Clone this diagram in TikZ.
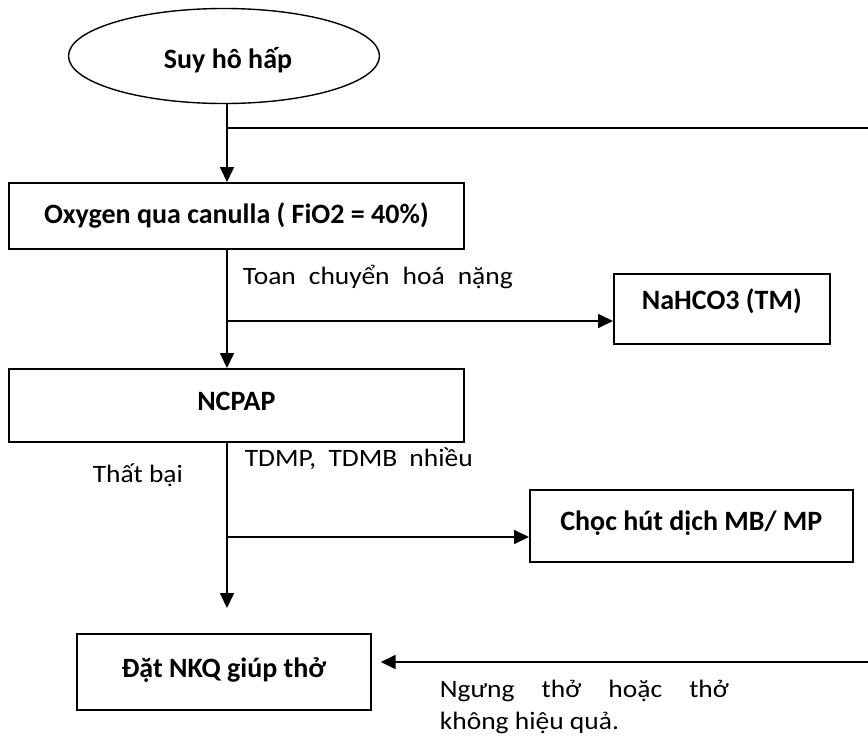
\documentclass[tikz,border=0pt]{standalone}
\usepackage{fontspec}
\setmainfont{Carlito}
\newfontfamily\lblfont{Carlito}[FakeStretch=1.1]
\usetikzlibrary{arrows.meta,shapes.geometric}
\begin{document}
\begin{tikzpicture}[x=1pt,y=-1pt,line width=1.7pt,
  boxfont/.style={font=\bfseries\fontsize{28}{32}\selectfont},
  stepbox/.style={draw,rectangle,inner sep=0pt,anchor=north west,boxfont,text height=18pt},
  lbl/.style={font=\lblfont\fontsize{25}{30}\selectfont,inner sep=0pt,anchor=base west},
  arr/.style={-{Triangle[length=15pt,width=14pt]}}]
\useasboundingbox (0,0) rectangle (868,739);
% nodes
\node[draw,ellipse,line width=1.4pt,minimum width=311pt,minimum height=95pt,inner sep=0pt,
      boxfont,text height=24pt,text depth=0pt] (suy) at (224,56) {\hspace*{8pt}Suy hô hấp};
\node[stepbox,minimum width=455pt,minimum height=66pt,text depth=2pt] (oxy) at (8,182)
      {Oxygen qua canulla ( FiO2 = 40\%)};
\node[stepbox,minimum width=216pt,minimum height=70pt,text depth=16pt] (na) at (613,273)
      {NaHCO3 (TM)};
\node[stepbox,minimum width=455pt,minimum height=73pt,text depth=8pt] (ncpap) at (8,368)
      {NCPAP};
\node[stepbox,minimum width=323pt,minimum height=72pt,text depth=9pt] (choc) at (529,489)
      {Chọc hút dịch MB/ MP};
\node[stepbox,minimum width=294pt,minimum height=76pt,text depth=6pt] (dat) at (76,633)
      {Đặt NKQ giúp thở};
% labels
\node[lbl] (ltoan) at (242,284) {\makebox[270pt][s]{Toan chuyển hoá nặng}};
\node[lbl] (ltdmp) at (244,466) {\makebox[228pt][s]{TDMP, TDMB nhiều}};
\node[lbl] (lthat) at (92,482) {Thất bại};
\node[lbl] (lngung1) at (439,697) {\makebox[289pt][s]{Ngưng thở hoặc thở}};
\node[lbl] (lngung2) at (439,729) {không hiệu quả.};
% junctions
\coordinate (j1) at (227,128);
\coordinate (r1) at (868,128);
\coordinate (j2) at (227,321);
\coordinate (j3) at (227,537);
\coordinate (e4) at (227,608);
\coordinate (r2) at (868,662);
% connectors
\draw (suy.south -| j1) -- (j1) -- (r1);
\draw[arr] (j1) -- (oxy.north -| j1);
\draw (oxy.south -| j2) -- (j2);
\draw[arr] (j2) -- (ncpap.north -| j2);
\draw[arr] (j2) -- (j2 -| na.west);
\draw (ncpap.south -| j3) -- (j3);
\draw[arr] (j3) -- (j3 -| choc.west);
\draw[arr] (j3) -- (e4);
\draw[arr,shorten >=9pt] (r2) -- (r2 -| dat.east);
\end{tikzpicture}
\end{document}
